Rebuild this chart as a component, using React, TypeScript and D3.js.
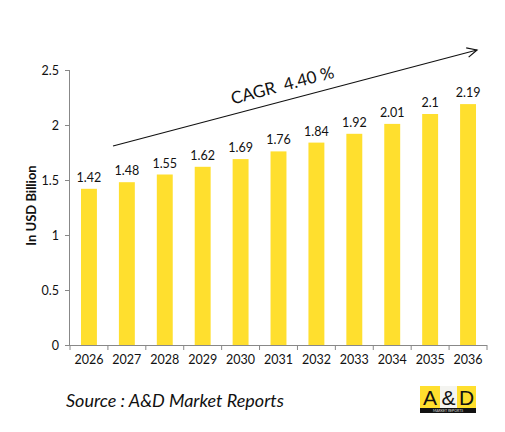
import { axisBottom, axisLeft, scaleBand, scaleLinear, select } from "d3";
import { useEffect, useRef } from "react";

const years = ["2026", "2027", "2028", "2029", "2030", "2031", "2032", "2033", "2034", "2035", "2036"];
const values = [1.42, 1.48, 1.55, 1.62, 1.69, 1.76, 1.84, 1.92, 2.01, 2.1, 2.19];
const yTicks = [0, 0.5, 1, 1.5, 2, 2.5];
const cagrLabel = "CAGR  4.40 %";
const sourceLabel = "Source : A&D Market Reports";

const W = 505;
const H = 432;
const font = "Lato, 'Open Sans', sans-serif";

export default function App() {
  const svgRef = useRef<SVGSVGElement | null>(null);

  useEffect(() => {
    if (!svgRef.current) return;
    const svg = select(svgRef.current);
    svg.selectAll("*").remove();

    const margin = { top: 70, left: 70, right: 18, bottom: 87 };
    const innerW = W - margin.left - margin.right;
    const innerH = H - margin.top - margin.bottom;

    svg.append("rect").attr("width", W).attr("height", H).attr("fill", "#fff");

    const chart = svg.append("g").attr("transform", `translate(${margin.left},${margin.top})`);

    const x = scaleBand<string>().domain(years).range([0, innerW]).paddingInner(0.58).paddingOuter(0.29);
    const y = scaleLinear().domain([0, 2.5]).range([innerH, 0]);

    // bars
    chart
      .selectAll("rect.bar")
      .data(values)
      .join("rect")
      .attr("class", "bar")
      .attr("x", (_, i) => x(years[i]) ?? 0)
      .attr("y", (d) => y(d))
      .attr("width", x.bandwidth())
      .attr("height", (d) => innerH - y(d))
      .attr("fill", "#FFDF2E");

    chart
      .selectAll("text.val")
      .data(values)
      .join("text")
      .attr("class", "val")
      .attr("x", (_, i) => (x(years[i]) ?? 0) + x.bandwidth() / 2)
      .attr("y", (d) => y(d) - 7)
      .attr("text-anchor", "middle")
      .attr("font-family", font)
      .attr("font-size", 12.5)
      .attr("fill", "#111")
      .text((d) => String(d));

    // y axis
    const yAxis = chart
      .append("g")
      .call(axisLeft(y).tickValues(yTicks).tickSize(5).tickPadding(6).tickFormat((d) => String(d)));
    yAxis.select(".domain").attr("stroke", "#888").attr("d", `M-0.5,${innerH}V0`);
    yAxis.selectAll(".tick line").attr("stroke", "#888");
    yAxis.selectAll("text").attr("font-family", font).attr("font-size", 12.5).attr("fill", "#111");

    // x axis with ticks at band boundaries
    const xAxis = chart
      .append("g")
      .attr("transform", `translate(0,${innerH})`)
      .call(axisBottom(x).tickSize(0).tickPadding(10));
    xAxis.select(".domain").attr("stroke", "#888").attr("d", `M0,0.5H${innerW}`);
    xAxis.selectAll("text").attr("font-family", font).attr("font-size", 12.5).attr("fill", "#111");
    const step = x.step();
    chart
      .append("g")
      .selectAll("line")
      .data(years.map((_, i) => i).concat([years.length]))
      .join("line")
      .attr("x1", (i) => i * step)
      .attr("x2", (i) => i * step)
      .attr("y1", innerH)
      .attr("y2", innerH + 5)
      .attr("stroke", "#888");

    // y label
    svg
      .append("text")
      .attr("transform", `translate(36,${margin.top + innerH / 2 - 2}) rotate(-90)`)
      .attr("text-anchor", "middle")
      .attr("font-family", font)
      .attr("font-weight", "bold")
      .attr("font-size", 13)
      .attr("fill", "#111")
      .text("In USD Billion");

    // CAGR arrow
    const x1 = 113, y1 = 146, x2 = 477, y2 = 50;
    const ang = Math.atan2(y2 - y1, x2 - x1);
    svg
      .append("line")
      .attr("x1", x1)
      .attr("y1", y1)
      .attr("x2", x2)
      .attr("y2", y2)
      .attr("stroke", "#111")
      .attr("stroke-width", 1.2);
    const head = 11;
    const spread = 0.45;
    svg
      .append("path")
      .attr(
        "d",
        `M${x2 - head * Math.cos(ang - spread)},${y2 - head * Math.sin(ang - spread)}L${x2},${y2}L${x2 - head * Math.cos(ang + spread)},${y2 - head * Math.sin(ang + spread)}`
      )
      .attr("fill", "none")
      .attr("stroke", "#111")
      .attr("stroke-width", 1.2);

    svg
      .append("text")
      .attr("transform", `translate(284,91) rotate(${(ang * 180) / Math.PI})`)
      .attr("text-anchor", "middle")
      .attr("font-family", font)
      .attr("font-size", 17)
      .attr("fill", "#111")
      .attr("xml:space", "preserve")
      .style("white-space", "pre")
      .text(cagrLabel);

    // source
    svg
      .append("text")
      .attr("x", 66)
      .attr("y", 407)
      .attr("font-family", font)
      .attr("font-style", "italic")
      .attr("font-size", 18)
      .attr("fill", "#111")
      .text(sourceLabel);

    // logo
    const logo = svg.append("g").attr("transform", "translate(420,386)");
    logo.append("rect").attr("width", 20).attr("height", 22).attr("fill", "#FFDF2E");
    logo.append("rect").attr("x", 20).attr("width", 17).attr("height", 22).attr("fill", "#f4f4f0");
    logo.append("rect").attr("x", 37).attr("width", 19).attr("height", 22).attr("fill", "#FFDF2E");
    logo.append("rect").attr("y", 22).attr("width", 56).attr("height", 5).attr("fill", "#111");
    const letters = ["A", "&", "D"];
    const lx = [10, 28.5, 46.5];
    logo
      .selectAll("text.l")
      .data(letters)
      .join("text")
      .attr("class", "l")
      .attr("x", (_, i) => lx[i])
      .attr("y", 19)
      .attr("text-anchor", "middle")
      .attr("font-family", "'Liberation Sans', Arial, sans-serif")
      .attr("font-size", 21)
      .attr("fill", "#111")
      .text((d) => d);
    logo
      .append("text")
      .attr("x", 28)
      .attr("y", 26)
      .attr("text-anchor", "middle")
      .attr("font-family", font)
      .attr("font-size", 3.5)
      .attr("fill", "#ddd")
      .text("MARKET REPORTS");
  }, []);

  return (
    <svg
      ref={svgRef}
      width={W}
      height={H}
      style={{ position: "absolute", left: 0, top: 0 }}
      role="img"
      aria-label="Market size bar chart"
    />
  );
}
